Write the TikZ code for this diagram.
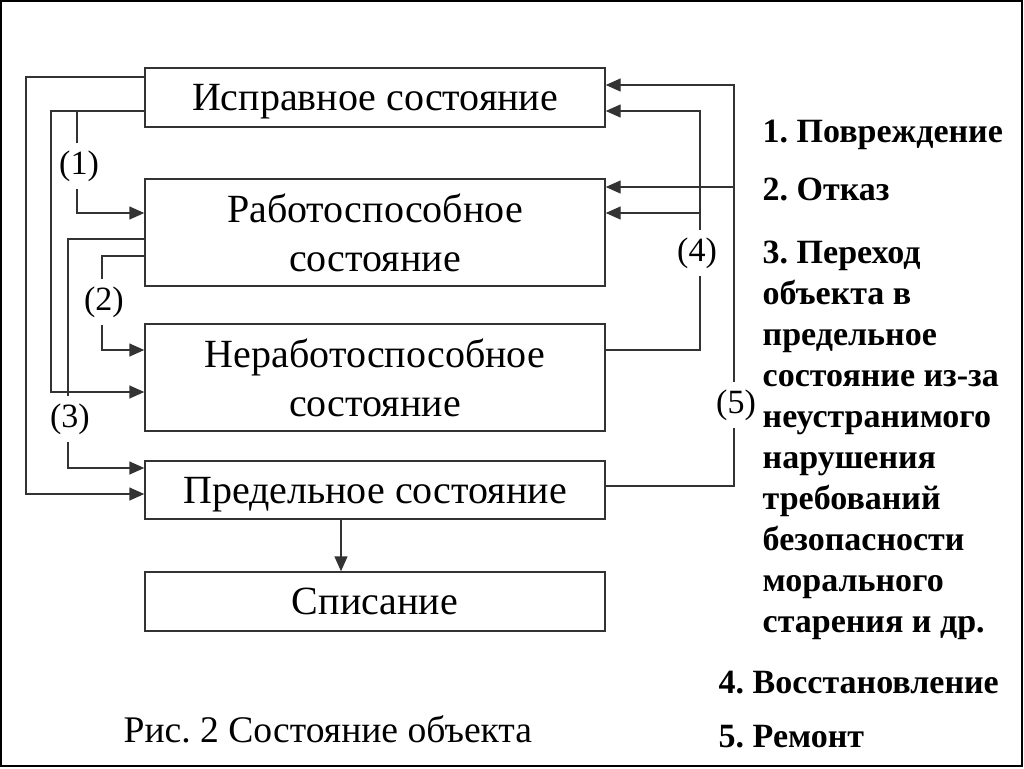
\documentclass[tikz,border=0pt]{standalone}
\usepackage{fontspec}
\setmainfont{Liberation Serif}
\usetikzlibrary{arrows.meta}
\frenchspacing

\tikzset{
  state/.style={draw=black!80, line width=0.7pt, minimum width=230pt, align=center,
    inner sep=0pt, text depth=0pt, font=\fontsize{20}{24.5}\selectfont},
  arr/.style={-{Triangle[length=7.5pt,width=6.5pt]}},
  lbl/.style={inner sep=3.5pt, font=\fontsize{17}{19}\selectfont},
  note/.style={anchor=base west, inner sep=0pt, font=\bfseries\fontsize{17}{20}\selectfont}
}

\begin{document}
\begin{tikzpicture}[x=0.5pt,y=-0.5pt,line width=0.7pt,draw=black!80]
		\useasboundingbox (0,0) rectangle (1024,768);
		\draw[black,line width=1.2pt] (1,1) rectangle (1022,766);
		% states
		\node[state,minimum height=29.5pt] (b1) at (375,97.5) {Исправное состояние};
		\node[state,minimum height=53.5pt] (b2) at (375,232.5) {Работоспособное\\состояние};
		\node[state,minimum height=53.5pt] (b3) at (375,377.5) {Неработоспособное\\состояние};
		\node[state,minimum height=29pt] (b4) at (375,490) {Предельное состояние};
		\node[state,minimum height=29.5pt] (b5) at (375,601.5) {Списание};
		% labels
		\node[lbl] (l1) at (79,166) {(1)};
		\node[lbl] (l2) at (104,302) {(2)};
		\node[lbl] (l3) at (70,419) {(3)};
		\node[lbl] (l4) at (697,253) {(4)};
		\node[lbl] (l5) at (736,405) {(5)};
		% left hand
		\draw[arr] (b1.west |- 0,77) -- (26,77) -- (26,494) -- (b4.west |- 0,494);
		\draw[arr] (b1.west |- 0,111) -- (51,111) |- (b3.west |- 0,392);
		\draw (77,111) -- (77,111 |- l1.north);
		\draw[arr] (77,111 |- l1.south) |- (b2.west |- 0,213);
		\draw (b2.west |- 0,239) -- (68,239) -- (68,0 |- l3.north);
		\draw[arr] (68,0 |- l3.south) |- (b4.west |- 0,468);
		\draw (b2.west |- 0,256) -- (102,256) -- (102,0 |- l2.north);
		\draw[arr] (102,0 |- l2.south) |- (b3.west |- 0,350);
		% right hand
		\draw (b4.east |- 0,486) -- (734,486) -- (734,0 |- l5.south);
		\draw[arr] (734,0 |- l5.north) |- (b1.east |- 0,85);
		\draw[arr] (734,187) -- (b2.east |- 0,187);
		\draw (b3.east |- 0,350) -- (700,350) -- (700,0 |- l4.south);
		\draw[arr] (700,0 |- l4.north) |- (b1.east |- 0,111);
		\draw[arr] (700,213) -- (b2.east |- 0,213);
		% write-off
		\draw[arr] (b4.south -| 341,0) -- (b5.north -| 341,0);
		% legend
		\node[note] (n1) at (762,142) {1. Повреждение};
		\node[note] (n2) at (762,200) {2. Отказ};
		\foreach \t [count=\i from 0] in {3. Переход, объекта в, предельное, состояние из-за,
			неустранимого, нарушения, требований, безопасности, морального, старения и др.}
			\node[note] (n3-\i) at (762,263+41.1*\i) {\t};
		\node[note] (n4) at (718,693) {4. Восстановление};
		\node[note] (n5) at (718,747) {5. Ремонт};
		% caption
		\node[anchor=base west,inner sep=0pt,font=\fontsize{18.8}{23}\selectfont] (cap) at (123,742) {Рис. 2 Состояние объекта};
		\end{tikzpicture}
\end{document}
